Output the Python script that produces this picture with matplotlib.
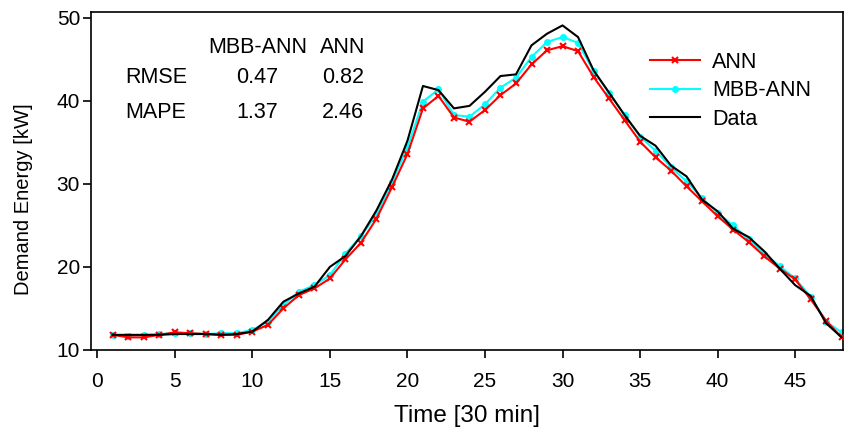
import matplotlib.pyplot as plt
import numpy as np

plt.rcParams['font.family'] = ['Liberation Sans', 'DejaVu Sans']

t = np.arange(1, 49)

data = [11.8, 11.8, 11.8, 11.8, 11.9, 11.9, 11.9, 11.8, 11.9, 12.2, 13.6, 15.8,
        16.8, 17.6, 20.0, 21.3, 23.7, 26.8, 30.5, 35.2, 41.8, 41.3, 39.1, 39.4,
        41.1, 43.0, 43.2, 46.7, 48.1, 49.1, 47.7, 43.7, 41.0, 38.3, 35.8, 34.6,
        32.2, 30.9, 28.1, 26.7, 24.6, 23.6, 21.9, 19.8, 17.8, 16.5, 13.2, 11.5]

mbb_ann = [11.8, 11.7, 11.8, 11.9, 12.0, 12.0, 11.9, 12.0, 12.0, 12.4, 13.4, 15.4,
           17.0, 17.8, 19.0, 21.6, 23.7, 26.3, 30.2, 34.4, 39.9, 41.4, 38.3, 38.1,
           39.6, 41.6, 42.8, 45.3, 47.1, 47.7, 47.0, 43.6, 41.0, 38.3, 35.7, 34.0,
           32.0, 30.3, 28.3, 26.5, 25.0, 23.3, 21.6, 20.1, 18.6, 16.4, 13.4, 12.1]

ann = [11.8, 11.5, 11.5, 11.8, 12.1, 12.0, 11.9, 11.8, 11.8, 12.2, 13.0, 15.0,
       16.6, 17.4, 18.6, 20.9, 22.9, 25.8, 29.6, 33.6, 39.1, 40.6, 38.0, 37.5,
       38.9, 40.7, 42.1, 44.4, 46.1, 46.6, 46.0, 42.9, 40.3, 37.7, 35.1, 33.2,
       31.6, 29.7, 27.9, 26.1, 24.5, 23.0, 21.3, 19.8, 18.5, 16.1, 13.5, 11.5]

metrics = ['RMSE', 'MAPE']
mbb_scores = ['0.47', '1.37']
ann_scores = ['0.82', '2.46']

fig = plt.figure(figsize=(8.44, 4.34), dpi=100)
ax = fig.add_axes([0.108, 0.194, 0.891, 0.778])

ax.plot(t, mbb_ann, color='cyan', lw=1.5, marker='o', ms=4, label='MBB-ANN', zorder=2)
ax.plot(t, ann, color='red', lw=1.5, marker='x', ms=5, mew=1.5, label='ANN', zorder=3)
ax.plot(t, data, color='black', lw=1.5, label='Data', zorder=4)

ax.set_xlim(-0.4, 48.1)
ax.set_ylim(10, 50.7)
ax.set_xticks(range(0, 50, 5))
ax.set_yticks(range(10, 51, 10))
ax.tick_params(labelsize=15, direction='out', length=6, width=1.2)
ax.tick_params(axis='x', pad=10)
ax.tick_params(axis='y', pad=2)
for s in ax.spines.values():
    s.set_linewidth(1.2)
ax.set_xlabel('Time [30 min]', fontsize=17.5, labelpad=10)
ax.set_ylabel('Demand Energy [kW]', fontsize=14.5)
ax.yaxis.set_label_coords(-0.077, 0.445)

# metrics table
ax.text(0.221, 0.896, 'MBB-ANN', transform=ax.transAxes, ha='center', va='center', fontsize=15.5)
ax.text(0.335, 0.896, 'ANN', transform=ax.transAxes, ha='center', va='center', fontsize=15.5)
for i, m in enumerate(metrics):
    y = 0.805 - i * 0.101
    ax.text(0.045, y, m, transform=ax.transAxes, ha='left', va='center', fontsize=15.5)
    ax.text(0.221, y, mbb_scores[i], transform=ax.transAxes, ha='center', va='center', fontsize=15.5)
    ax.text(0.335, y, ann_scores[i], transform=ax.transAxes, ha='center', va='center', fontsize=15.5)

h, l = ax.get_legend_handles_labels()
order = [1, 0, 2]
ax.legend([h[i] for i in order], [l[i] for i in order], frameon=False, fontsize=15.5,
          loc='upper left', bbox_to_anchor=(0.718, 0.94), handlelength=2.3,
          labelspacing=0.35, handletextpad=0.55)

fig.savefig('out.png', dpi=100)
